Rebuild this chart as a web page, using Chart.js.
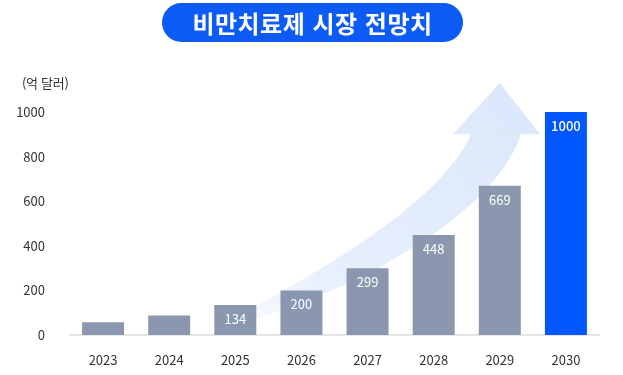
<!DOCTYPE html>
<html lang="ko">
<head>
  <meta charset="UTF-8" />
  <title>비만치료제 시장 전망치</title>
  <script src="https://cdn.jsdelivr.net/npm/chart.js"></script>
  <style>
    html, body { margin: 0; padding: 0; background: #fff; }
    .wrap { position: relative; width: 623px; height: 375px; }
    .pill {
      position: absolute; left: 162px; top: 3px; width: 301px; height: 39px;
      border-radius: 20px; background: #0d5bf6; color: #fff;
      font: bold 24px "Noto Sans CJK KR", sans-serif; letter-spacing: 0.5px;
      display: flex; align-items: center; justify-content: center;
    }
    .unit {
      position: absolute; left: 22px; top: 73px;
      font: 13px "Noto Sans CJK KR", sans-serif; color: #333; letter-spacing: -0.3px;
    }
    canvas { position: absolute; left: 0; top: 0; }
  </style>
</head>
<body>
  <div class="wrap">
    <canvas id="chart" width="623" height="375"></canvas>
    <div class="pill">비만치료제 시장 전망치</div>
    <div class="unit">(억 달러)</div>
  </div>

  <script>
    // data
    const years = ['2023', '2024', '2025', '2026', '2027', '2028', '2029', '2030'];
    const marketSize = [57, 88, 134, 200, 299, 448, 669, 1000];
    const valueLabels = ['', '', '134', '200', '299', '448', '669', '1000'];
    const yTicks = [0, 200, 400, 600, 800, 1000];

    const grey = '#8b97ae';
    const blue = '#0057ff';
    const barColors = years.map((y, i) => i === years.length - 1 ? blue : grey);

    // big pale arrow behind the bars
    const arrowPlugin = {
      id: 'arrow',
      beforeDatasetsDraw(chart) {
        const { ctx, scales: { x, y } } = chart;
        const P = (i, v) => [x.getPixelForValue(i), y.getPixelForValue(v)];
        const tail = P(1.45, 0);
        const tip = P(6.0, 1130);
        const headL = P(5.29, 900), headR = P(6.61, 900);
        const shR = P(6.32, 900), shL = P(5.57, 900);

        const g = ctx.createLinearGradient(tail[0], tail[1], tip[0], tip[1]);
        g.addColorStop(0, 'rgba(221,233,251,0)');
        g.addColorStop(0.35, 'rgba(221,233,251,0.7)');
        g.addColorStop(1, 'rgba(219,232,251,1)');

        ctx.save();
        ctx.beginPath();
        ctx.moveTo(...tail);
        // lower / right edge of the shaft
        ctx.bezierCurveTo(...P(3.6, 150), ...P(5.9, 520), ...shR);
        ctx.lineTo(...headR);
        ctx.lineTo(...tip);
        ctx.lineTo(...headL);
        ctx.lineTo(...shL);
        // upper / left edge back to the tail
        ctx.bezierCurveTo(...P(5.1, 600), ...P(3.4, 290), ...tail);
        ctx.closePath();
        ctx.fillStyle = g;
        ctx.fill();
        ctx.restore();
      }
    };

    // white value labels inside the bar tops
    const valuePlugin = {
      id: 'values',
      afterDatasetsDraw(chart) {
        const { ctx } = chart;
        const meta = chart.getDatasetMeta(0);
        ctx.save();
        ctx.fillStyle = '#fff';
        ctx.textAlign = 'center';
        ctx.textBaseline = 'middle';
        meta.data.forEach((bar, i) => {
          if (!valueLabels[i]) return;
          const last = i === valueLabels.length - 1;
          ctx.font = (last ? '500 ' : '') + '13px "Noto Sans CJK KR", sans-serif';
          ctx.fillText(valueLabels[i], bar.x, bar.y + 14);
        });
        ctx.restore();
      }
    };

    new Chart(document.getElementById('chart'), {
      type: 'bar',
      data: {
        labels: years,
        datasets: [{
          data: marketSize,
          backgroundColor: barColors,
          borderWidth: 0,
          categoryPercentage: 1,
          barPercentage: 0.635
        }]
      },
      options: {
        responsive: false,
        animation: false,
        layout: { padding: { top: 112, right: 24, bottom: 0, left: 0 } },
        plugins: { legend: { display: false }, tooltip: { enabled: false } },
        scales: {
          x: {
            grid: { display: false },
            border: { display: true, color: '#e6e6e6', width: 2 },
            ticks: {
              color: '#333',
              padding: 9,
              font: { family: '"Noto Sans CJK KR", sans-serif', size: 13 }
            },
            afterFit(s) { s.height = 40; }
          },
          y: {
            min: 0,
            max: 1000,
            grid: { display: false },
            border: { display: false },
            afterBuildTicks(s) { s.ticks = yTicks.map(v => ({ value: v })); },
            ticks: {
              color: '#333',
              padding: 17,
              callback: v => String(v),
              font: { family: '"Noto Sans CJK KR", sans-serif', size: 13 }
            },
            afterFit(s) { s.width = 70; }
          }
        }
      },
      plugins: [arrowPlugin, valuePlugin]
    });
  </script>
</body>
</html>
